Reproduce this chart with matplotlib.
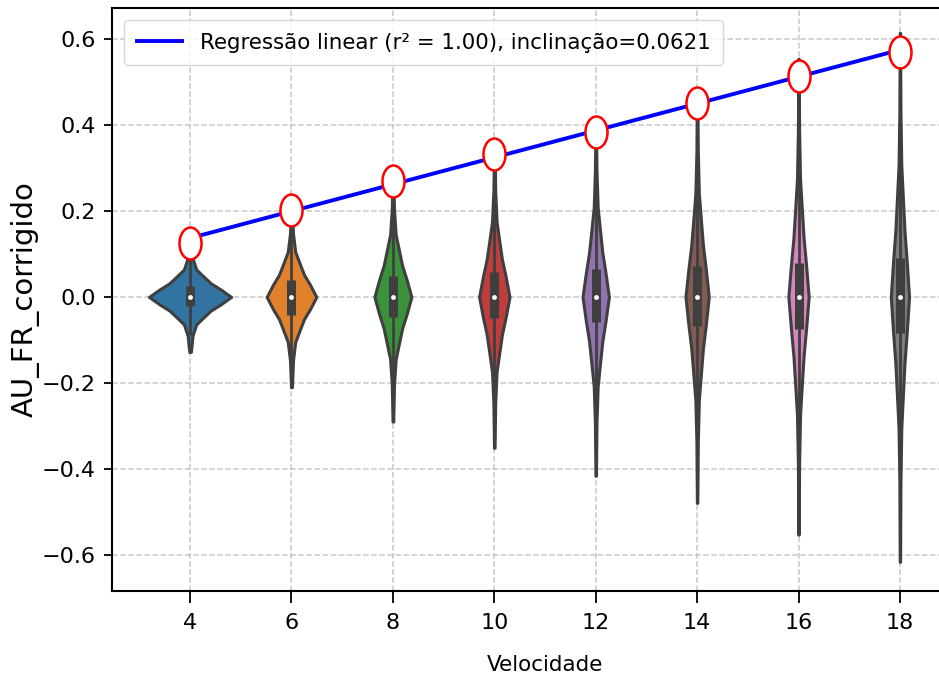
import matplotlib
matplotlib.use('Agg')
import matplotlib.pyplot as plt
import numpy as np
from matplotlib.path import Path
from matplotlib.markers import MarkerStyle
from matplotlib.transforms import Affine2D

# Dados
velocidades = [4, 6, 8, 10, 12, 14, 16, 18]
cores = ['#3274a1', '#e1812c', '#3a923a', '#c03d3e',
         '#9372b2', '#845b53', '#d684bd', '#7f7f7f']

# pontos de referencia (circulos vermelhos)
au_ref = [0.125, 0.202, 0.270, 0.333, 0.384, 0.450, 0.513, 0.569]

# extremos, quartis e mediana de cada violino
au_min = [-0.128, -0.210, -0.290, -0.351, -0.416, -0.479, -0.553, -0.616]
au_max = [0.125, 0.205, 0.280, 0.350, 0.415, 0.480, 0.554, 0.614]
au_q1 = [-0.020, -0.042, -0.046, -0.050, -0.058, -0.068, -0.075, -0.085]
au_q3 = [0.025, 0.040, 0.048, 0.057, 0.064, 0.072, 0.080, 0.090]
au_med = [0.0, 0.0, 0.0, 0.0, 0.0, 0.0, 0.0, 0.0]

# largura maxima de cada violino (unidades de categoria)
largura = [0.81, 0.49, 0.365, 0.30, 0.26, 0.23, 0.20, 0.18]

# perfil de densidade: niveis (acima/abaixo de 0) e densidade relativa
dens_rel = [0.02, 0.06, 0.15, 0.30, 0.50, 0.75, 1.0, 0.75, 0.50, 0.30, 0.15, 0.06, 0.02]
niveis_abs = [
    [0.017, 0.032, 0.050, 0.064, 0.090],
    [0.028, 0.052, 0.082, 0.105, 0.148],
    [0.039, 0.073, 0.114, 0.145, 0.204],
    [0.047, 0.088, 0.137, 0.175, 0.247],
    [0.055, 0.104, 0.163, 0.208, 0.293],
    [0.064, 0.120, 0.188, 0.240, 0.338],
    [0.073, 0.138, 0.215, 0.275, 0.387],
    [0.082, 0.154, 0.240, 0.307, 0.432],
]

inclinacao = 0.0621
r2 = 1.00

plt.rcParams['font.family'] = ['DejaVu Sans']
plt.rcParams['axes.linewidth'] = 1.5

fig = plt.figure(figsize=(9.39, 6.86), dpi=100)
ax = fig.add_axes([112 / 939, 95 / 686, 866 / 939, 583 / 686])

pos = np.arange(len(velocidades))

# violinos
stats = []
for i in range(len(velocidades)):
    a = niveis_abs[i]
    coords = [au_min[i], -a[4], -a[3], -a[2], -a[1], -a[0], au_med[i],
              a[0], a[1], a[2], a[3], a[4], au_max[i]]
    stats.append({'coords': np.array(coords), 'vals': np.array(dens_rel),
                  'mean': au_med[i], 'median': au_med[i],
                  'min': au_min[i], 'max': au_max[i]})

partes = ax.violin(stats, positions=pos, widths=largura,
                   showmeans=False, showextrema=False, showmedians=False)
for corpo, cor in zip(partes['bodies'], cores):
    corpo.set_facecolor(cor)
    corpo.set_edgecolor('#3f3f3f')
    corpo.set_linewidth(2.2)
    corpo.set_alpha(1)
    corpo.set_zorder(2)

# caixa interna (estilo seaborn)
for i in range(len(velocidades)):
    iqr = au_q3[i] - au_q1[i]
    w_lo = max(au_min[i], au_q1[i] - 1.5 * iqr)
    w_hi = min(au_max[i], au_q3[i] + 1.5 * iqr)
    ax.plot([pos[i], pos[i]], [w_lo, w_hi], color='#3f3f3f', lw=2.0, zorder=3,
            solid_capstyle='butt')
    ax.plot([pos[i], pos[i]], [au_q1[i], au_q3[i]], color='#3f3f3f', lw=6.5,
            zorder=3, solid_capstyle='butt')
    ax.plot(pos[i], au_med[i], 'o', color='white', ms=3.5, mec='none', zorder=4)

# regressao linear sobre os pontos
coef = np.polyfit(pos, au_ref, 1)
ax.plot([pos[0], pos[-1]], np.polyval(coef, [pos[0], pos[-1]]), color='blue', lw=2.8,
        zorder=5,
        label=f'Regressão linear (r² = {r2:.2f}), inclinação={inclinacao:.4f}')

elipse = Path.unit_circle().transformed(Affine2D().scale(0.69, 1.0))
ax.plot(pos, au_ref, linestyle='none', marker=MarkerStyle(elipse), ms=23,
        mfc='white', mec='red', mew=1.8, zorder=6)

ax.set_xlim(-0.77, 7.77)
ax.set_ylim(-0.684, 0.672)
ax.set_xticks(pos)
ax.set_xticklabels([str(v) for v in velocidades])
ax.set_yticks([-0.6, -0.4, -0.2, 0.0, 0.2, 0.4, 0.6])
ax.tick_params(axis='x', labelsize=16, length=8.5, width=1.3, pad=7)
ax.tick_params(axis='y', labelsize=16, length=5.8, width=1.3, pad=6)

ax.set_xlabel('Velocidade', fontsize=15.5, labelpad=16)
ax.set_ylabel('AU_FR_corrigido', fontsize=21, labelpad=1)

ax.grid(True, linestyle='--', color='#b0b0b0', alpha=0.7, lw=1.1)
ax.set_axisbelow(True)

ax.legend(loc='upper left', fontsize=15.4, handlelength=2.1, handletextpad=0.85,
          borderaxespad=0.55, borderpad=0.6)

plt.savefig('out.png', dpi=100)
plt.close()
